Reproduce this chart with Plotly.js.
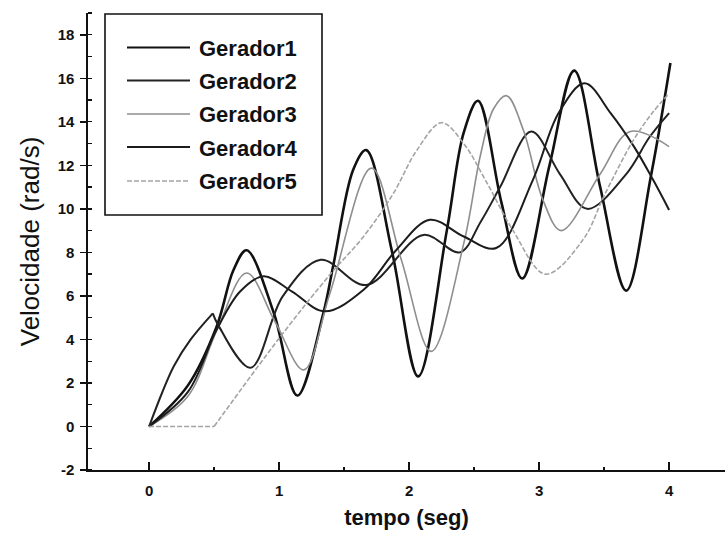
<!DOCTYPE html>
<html><head><meta charset="utf-8">
<script src="https://cdn.plot.ly/plotly-3.0.1.min.js"></script>
<style>html,body{margin:0;padding:0;background:#fff}#chart{width:725px;height:540px}</style>
</head><body><div id="chart"></div>
<script>
// ---- data ----
const seriesNames = ['Gerador1','Gerador2','Gerador3','Gerador4','Gerador5'];

const g1_t = [0, 0.3, 0.52, 0.65, 0.75, 0.96, 1.14, 1.34, 1.42, 1.57, 1.67, 1.87, 2.07, 2.29, 2.42, 2.53, 2.71, 2.87, 3.08, 3.27, 3.47, 3.67, 3.86, 4.01];
const g1_v = [0, 1.9, 4.6, 7.2, 8.1, 5.2, 1.42, 5.2, 7.5, 11.8, 12.7, 8.0, 2.3, 9.0, 13.5, 14.97, 10.3, 6.8, 12.0, 16.35, 11.0, 6.24, 11.5, 16.7];

const g2_t = [0, 0.1, 0.19, 0.32, 0.49, 0.53, 0.78, 1.03, 1.32, 1.67, 2.11, 2.39, 2.55, 2.7, 2.94, 3.16, 3.37, 3.67, 3.85, 4.0];
const g2_v = [0, 1.55, 2.77, 4.0, 5.2, 4.68, 2.7, 6.0, 7.66, 6.5, 8.8, 8.0, 9.4, 11.0, 13.55, 11.6, 10.0, 11.6, 13.3, 14.4];

const g3_t = [0, 0.3, 0.52, 0.75, 0.97, 1.19, 1.39, 1.71, 1.94, 2.17, 2.42, 2.55, 2.65, 2.75, 2.88, 3.03, 3.17, 3.47, 3.7, 4.0];
const g3_v = [0, 1.4, 4.4, 7.05, 4.8, 2.6, 6.1, 11.87, 7.66, 3.45, 8.4, 12.5, 14.6, 15.2, 13.6, 10.4, 9.0, 11.6, 13.55, 12.86];

const g4_t = [0, 0.3, 0.52, 0.7, 0.88, 1.1, 1.35, 1.65, 1.9, 2.16, 2.42, 2.67, 2.95, 3.15, 3.35, 3.55, 3.73, 3.88, 4.0];
const g4_v = [0, 1.6, 4.45, 6.2, 6.9, 6.2, 5.29, 6.28, 8.1, 9.5, 8.73, 8.2, 11.3, 14.4, 15.77, 14.4, 12.86, 11.3, 9.95];

const g5_t = [0, 0.5, 1.0, 1.39, 1.65, 1.88, 2.06, 2.25, 2.42, 2.6, 2.8, 3.05, 3.34, 3.5, 3.72, 3.87, 4.0];
const g5_v = [0, 0, 4.05, 6.97, 8.73, 10.72, 12.7, 13.96, 13.0, 11.18, 9.0, 7.0, 8.6, 10.6, 13.1, 14.4, 15.3];

const xTickVals = [0, 1, 2, 3, 4];
const xTickText = ['0', '1', '2', '3', '4'];
const yTickVals = [-2, 0, 2, 4, 6, 8, 10, 12, 14, 16, 18];
const yTickText = ['-2', '0', '2', '4', '6', '8', '10', '12', '14', '16', '18'];

// ---- styles ----
const styles = [
  {color:'#111111', width:2.6, dash:'solid'},
  {color:'#222222', width:2.0, dash:'solid'},
  {color:'#8e8e8e', width:1.6, dash:'solid'},
  {color:'#1c1c1c', width:2.0, dash:'solid'},
  {color:'#a4a4a4', width:1.6, dash:'5px,2px'}
];
const allT = [g1_t, g2_t, g3_t, g4_t, g5_t];
const allV = [g1_v, g2_v, g3_v, g4_v, g5_v];
// index where a sharp corner occurs (null = none), and shape of the part before it
const corners = [null, 4, null, null, 1];
const firstShapes = [null, 'spline', null, null, 'linear'];

const traces = [];
allT.forEach((t, i) => {
  const v = allV[i];
  const segs = corners[i] === null ? [[0, t.length, 'spline']] :
    [[0, corners[i] + 1, firstShapes[i]], [corners[i], t.length, 'spline']];
  segs.forEach(([a, b, shape]) => {
    traces.push({
      type: 'scatter', mode: 'lines', name: seriesNames[i],
      legendgroup: seriesNames[i], showlegend: false,
      x: t.slice(a, b), y: v.slice(a, b),
      line: {color: styles[i].color, width: styles[i].width, dash: styles[i].dash, shape: shape, smoothing: 1}
    });
  });
});

// ---- geometry helpers (pixel -> paper) ----
const L = 88, R = 0, T = 13, B = 70, W = 725, H = 540;
const pw = W - L - R, ph = H - T - B;
const pxX = px => (px - L) / pw;
const pxY = py => (H - B - py) / ph;

const font = 'Liberation Sans, Arial, Helvetica, sans-serif';
const shapes = [{
  type:'rect', xref:'paper', yref:'paper',
  x0:pxX(105), x1:pxX(322), y0:pxY(215), y1:pxY(14),
  line:{color:'#111', width:1.6}, fillcolor:'rgba(255,255,255,1)', layer:'above'
}];
const annotations = [];
const legendY = [47.5, 80.5, 114, 147, 181];
seriesNames.forEach((n, i) => {
  shapes.push({type:'line', xref:'paper', yref:'paper', x0:pxX(127), x1:pxX(190),
    y0:pxY(legendY[i]), y1:pxY(legendY[i]), layer:'above',
    line:{color:styles[i].color, width:Math.min(styles[i].width,2), dash:styles[i].dash}});
  annotations.push({xref:'paper', yref:'paper', x:pxX(197), y:pxY(legendY[i]+1), xanchor:'left', yanchor:'middle',
    text:n, showarrow:false, font:{family:font, size:22, color:'#111', weight:'bold'}});
});

const layout = {
  width: W, height: H,
  margin: {l:L, r:R, t:T, b:B, pad:0},
  paper_bgcolor:'#fff', plot_bgcolor:'#fff',
  showlegend:false,
  xaxis: {
    range:[-0.47, 4.43], tickvals:xTickVals, ticktext:xTickText, ticks:'inside', ticklen:8, tickwidth:1.5, tickcolor:'#111',
    minor:{dtick:0.5, ticks:'inside', ticklen:3, tickwidth:1.3, tickcolor:'#111'},
    showline:true, linecolor:'#111', linewidth:1.6, showgrid:false, zeroline:false,
    tickfont:{family:font, size:15, color:'#111', weight:'bold'}, ticklabelstandoff:6,
    title:{text:'tempo (seg)', font:{family:font, size:22, color:'#111', weight:'bold'}, standoff:12}
  },
  yaxis: {
    range:[-2, 19], tickvals:yTickVals, ticktext:yTickText, ticks:'outside', ticklen:6, tickwidth:1.5, tickcolor:'#111',
    minor:{dtick:1, ticks:'inside', ticklen:4, tickwidth:1.3, tickcolor:'#111'},
    showline:true, linecolor:'#111', linewidth:1.6, showgrid:false, zeroline:false,
    tickfont:{family:font, size:15, color:'#111', weight:'bold'}, ticklabelstandoff:3,
    title:{text:'Velocidade (rad/s)', font:{family:font, size:26, color:'#111'}, standoff:10}
  },
  shapes: shapes,
  annotations: annotations
};

Plotly.newPlot('chart', traces, layout, {displayModeBar:false, staticPlot:true});
</script></body></html>
